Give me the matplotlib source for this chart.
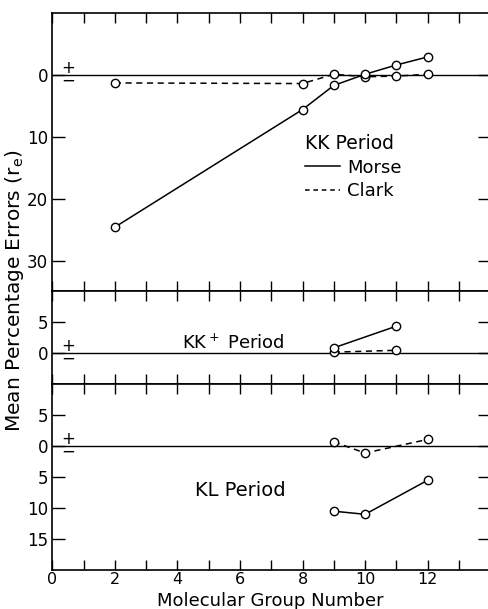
import matplotlib.pyplot as plt
from matplotlib.lines import Line2D

# KK period (errors in percent, + is up)
groups_kk = [2, 8, 9, 10, 11, 12]
morse_kk = [-24.6, -5.6, -1.7, 0.1, 1.6, 2.9]
clark_kk = [-1.3, -1.4, 0.1, -0.3, -0.2, 0.1]

# KK+ period
groups_kkp = [9, 11]
morse_kkp = [0.9, 4.4]
clark_kkp = [0.2, 0.5]

# KL period
groups_kl = [9, 10, 12]
morse_kl = [-10.5, -11.0, -5.5]
clark_kl = [0.7, -1.1, 1.1]

plt.rcParams['font.family'] = 'DejaVu Sans'
fig = plt.figure(figsize=(4.88, 6.09), dpi=100)
gs = fig.add_gridspec(3, 1, height_ratios=[45, 15, 30], hspace=0,
                      left=52.3/488, right=490.2/488, top=1-13/609, bottom=1-570/609)
ax1 = fig.add_subplot(gs[0])
ax2 = fig.add_subplot(gs[1], sharex=ax1)
ax3 = fig.add_subplot(gs[2], sharex=ax1)

dash = (0, (4, 3))
mk = dict(marker='o', ms=6, mfc='white', mec='black', mew=1.0, color='black', lw=1.1)

ax1.plot(groups_kk, clark_kk, ls=dash, **mk)
ax1.plot(groups_kk, morse_kk, ls='-', **mk)
ax2.plot(groups_kkp, clark_kkp, ls=dash, **mk)
ax2.plot(groups_kkp, morse_kkp, ls='-', **mk)
ax3.plot(groups_kl, clark_kl, ls=dash, **mk)
ax3.plot(groups_kl, morse_kl, ls='-', **mk)

ax1.set_ylim(-35, 10)
ax2.set_ylim(-5, 10)
ax3.set_ylim(-20, 10)

ax1.set_yticks([0, -10, -20, -30])
ax1.set_yticklabels(['0', '10', '20', '30'])
ax2.set_yticks([5, 0])
ax2.set_yticklabels(['5', '0'])
ax3.set_yticks([5, 0, -5, -10, -15])
ax3.set_yticklabels(['5', '0', '5', '10', '15'])

ax1.set_xlim(0, 14)
ax3.set_xticks(range(0, 14))
ax3.set_xticklabels([str(i) if i % 2 == 0 and i <= 12 else '' for i in range(14)])

for ax in (ax1, ax2, ax3):
    ax.axhline(0, color='black', lw=1.0, zorder=0)
    ax.tick_params(axis='x', direction='in', length=7, width=1.0, top=True, bottom=True,
                   labelsize=11.5, pad=1.5)
    ax.tick_params(axis='y', direction='in', length=9, width=1.0, left=True, right=True,
                   labelsize=12, pad=3)
    for s in ax.spines.values():
        s.set_linewidth(1.2)
    # +/- sign pair next to the zero line
    ax.annotate('+\n\u2212', (0.5, 0), xytext=(0, 0.5), textcoords='offset points',
                ha='center', va='center', fontsize=12, linespacing=0.62)
ax1.tick_params(axis='x', labelbottom=False)
ax2.tick_params(axis='x', labelbottom=False)

handles = [Line2D([], [], color='black', lw=1.1, ls='-'),
           Line2D([], [], color='black', lw=1.1, ls=(0, (3, 2.5)))]
leg = ax1.legend(handles, ['Morse', 'Clark'], title='KK Period', loc='upper left',
                 bbox_to_anchor=(0.578, 0.565), frameon=False, fontsize=13,
                 title_fontsize=13.5, handlelength=1.9, handletextpad=0.4,
                 borderpad=0, borderaxespad=0, labelspacing=0.3, alignment='left')

ax2.text(5.8, 1.6, 'KK$^+$ Period', ha='center', va='center', fontsize=13)
ax3.text(6.0, -7.2, 'KL Period', ha='center', va='center', fontsize=14)

fig.text(270/488, 1-606/609, 'Molecular Group Number', ha='center', va='baseline',
         fontsize=13)
fig.text(15/488, 1-291/609, 'Mean Percentage Errors (r$_\\mathregular{e}$)',
         rotation=90, ha='center', va='center', fontsize=14.5)

fig.savefig('out.png', dpi=100)
